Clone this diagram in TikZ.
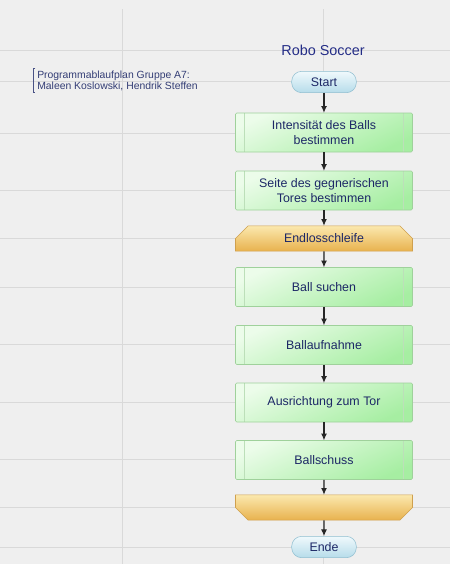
\documentclass[tikz,border=0pt]{standalone}
\usepackage{fontspec}
\setmainfont{Liberation Sans}
\usepackage{xcolor}
\usepackage{tikz}
\usetikzlibrary{shapes.misc,arrows.meta}

\definecolor{paper}{HTML}{EFEFEF}
\definecolor{gridline}{HTML}{D9D9D9}
\definecolor{navy}{HTML}{1C2766}
\definecolor{titleblue}{HTML}{232C86}
\definecolor{greentop}{HTML}{ECFCEA}
\definecolor{greenbot}{HTML}{A6EEA2}
\definecolor{greenedge}{HTML}{9FD19B}
\definecolor{orangetop}{HTML}{FBE8AE}
\definecolor{orangebot}{HTML}{E8B24E}
\definecolor{orangeedge}{HTML}{CFA04E}
\definecolor{bluetop}{HTML}{F0F9FC}
\definecolor{bluebot}{HTML}{B6DCEA}
\definecolor{blueedge}{HTML}{8FBED0}

\tikzset{
    every node/.style={font=\fontsize{9.3}{10.8}\selectfont, text=navy},
    procbox/.style={draw=greenedge, rectangle, rounded corners=1pt,
        top color=greentop, bottom color=greenbot, shading angle=25,
        minimum width=132.75pt, minimum height=29.25pt, align=center,
        path picture={
            \draw[greenedge!70] ([xshift=6.75pt]path picture bounding box.north west)
                -- ([xshift=6.75pt]path picture bounding box.south west);
            \draw[greenedge!70] ([xshift=-6.75pt]path picture bounding box.north east)
                -- ([xshift=-6.75pt]path picture bounding box.south east);
        }},
    loopbox/.style={draw=orangeedge, chamfered rectangle,
        chamfered rectangle xsep=6.5pt, chamfered rectangle ysep=5pt,
        top color=orangetop, bottom color=orangebot,
        minimum width=132.75pt, minimum height=15.75pt, inner sep=1pt},
    loopbegin/.style={loopbox, chamfered rectangle corners={north west, north east}},
    loopclose/.style={loopbox, chamfered rectangle corners={south west, south east}},
    terminal/.style={draw=blueedge, rectangle, rounded corners=7.5pt,
        top color=bluetop, bottom color=bluebot,
        minimum width=48.5pt, minimum height=16pt, inner sep=1pt},
    flow/.style={-{Latex[length=5pt,width=4.5pt]}, line width=0.8pt, draw=black!85}
}

\begin{document}
\begin{tikzpicture}[x=0.75pt, y=-0.75pt]
        \fill[paper] (0,0) rectangle (450,564);
        \useasboundingbox (0,0) rectangle (450,564);
        % background grid
        \foreach \gy in {50,81,133,190,238,287,344,402,459,507,547}
            \draw[gridline, line width=0.75pt] (0,\gy) -- (450,\gy);
        \foreach \gx in {122,323}
            \draw[gridline, line width=0.75pt] (\gx,9) -- (\gx,564);

        \node[text=titleblue, font=\fontsize{10.8}{12}\selectfont] (title) at (323,50) {Robo Soccer};
        \node[anchor=west, align=left, inner sep=0pt, text=navy!90,
              font=\fontsize{7.8}{8.4}\selectfont] (note) at (37,80.5)
              {Programmablaufplan Gruppe A7:\\Maleen Koslowski, Hendrik Steffen};
        \draw[navy!80, line width=0.6pt] ([xshift=-1.2pt,yshift=1.5pt]note.north west)
            -- ([xshift=-2.6pt,yshift=1.5pt]note.north west)
            -- ([xshift=-2.6pt,yshift=-1.5pt]note.south west)
            -- ([xshift=-1.2pt,yshift=-1.5pt]note.south west);

        \node[terminal] (start) at (324,82) {Start};
        \node[procbox] (intens) at (324,132.5) {Intensität des Balls\\bestimmen};
        \node[procbox] (seite) at (324,190.5) {Seite des gegnerischen\\Tores bestimmen};
        \node[loopbegin] (endlos) at (324,238.5) {Endlosschleife};
        \node[procbox] (suchen) at (324,287) {Ball suchen};
        \node[procbox] (aufnahme) at (324,345) {Ballaufnahme};
        \node[procbox] (ausricht) at (324,402.5) {Ausrichtung zum Tor};
        \node[procbox] (schuss) at (324,460) {Ballschuss};
        \node[loopclose] (endloop) at (324,507.5) {\phantom{Endlosschleife}};
        \node[terminal] (ende) at (324,547) {Ende};

        \draw[flow] (start) -- (intens);
        \draw[flow] (intens) -- (seite);
        \draw[flow] (seite) -- (endlos);
        \draw[flow] (endlos) -- (suchen);
        \draw[flow] (suchen) -- (aufnahme);
        \draw[flow] (aufnahme) -- (ausricht);
        \draw[flow] (ausricht) -- (schuss);
        \draw[flow] (schuss) -- (endloop);
        \draw[flow] (endloop) -- (ende);
    \end{tikzpicture}
\end{document}
